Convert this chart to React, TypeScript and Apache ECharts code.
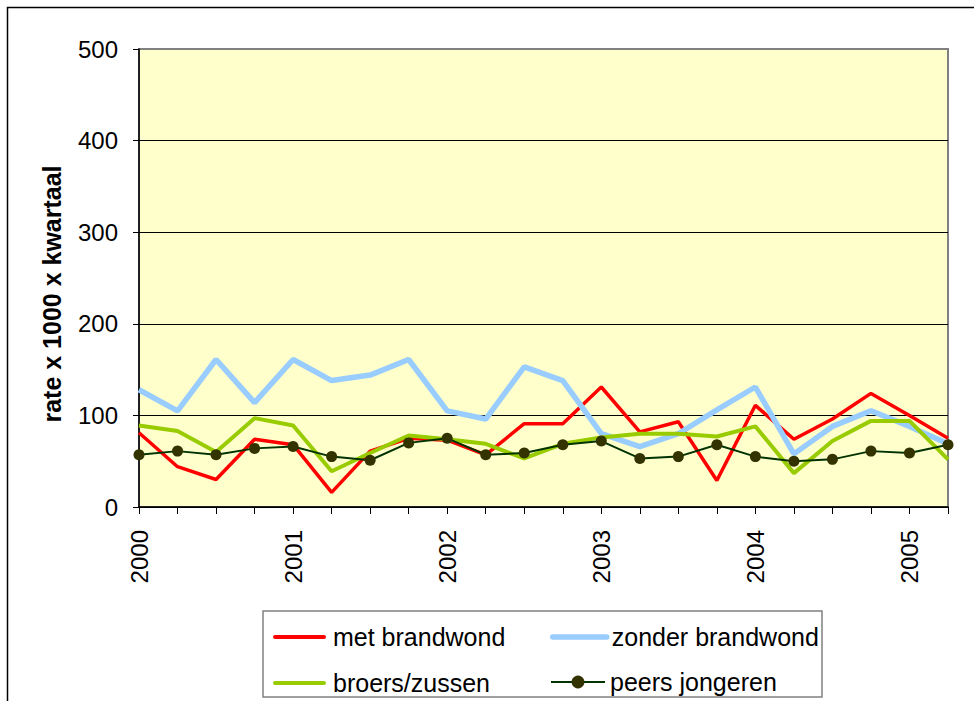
import React, { useEffect, useRef } from "react";
import * as echarts from "echarts";

const quarters = [
  "2000-Q1", "2000-Q2", "2000-Q3", "2000-Q4",
  "2001-Q1", "2001-Q2", "2001-Q3", "2001-Q4",
  "2002-Q1", "2002-Q2", "2002-Q3", "2002-Q4",
  "2003-Q1", "2003-Q2", "2003-Q3", "2003-Q4",
  "2004-Q1", "2004-Q2", "2004-Q3", "2004-Q4",
  "2005-Q1", "2005-Q2",
];

const metBrandwond = [81, 44, 30, 74, 68, 16, 61, 75, 73, 57, 91, 91, 131, 82, 93, 29, 111, 74, 96, 124, 100, 75];
const zonderBrandwond = [128, 105, 161, 114, 161, 138, 144, 161, 105, 96, 153, 138, 80, 66, 80, 106, 131, 58, 88, 105, 88, 69];
const broersZussen = [89, 83, 60, 97, 89, 39, 59, 78, 74, 69, 53, 69, 76, 80, 80, 77, 88, 37, 72, 94, 94, 52];
const peersJongeren = [57, 61, 57, 64, 66, 55, 51, 70, 75, 57, 59, 68, 72, 53, 55, 68, 55, 50, 52, 61, 59, 68];

const seriesNames = ["met brandwond", "zonder brandwond", "broers/zussen", "peers jongeren"];
const yTicks = { min: 0, max: 500, interval: 100 };
const yAxisTitle = "rate x 1000 x kwartaal";

const FONT = "Arial, 'Liberation Sans', sans-serif";

export default function App() {
  const ref = useRef<HTMLDivElement>(null);

  useEffect(() => {
    document.body.style.margin = "0";
    if (!ref.current) return;
    const chart = echarts.init(ref.current, null, { renderer: "svg" });

    const legendText = { fontSize: 25, fontFamily: FONT, color: "#000", lineHeight: 26 };
    const noSymbol = { opacity: 0 };

    chart.setOption({
      animation: false,
      backgroundColor: "#ffffff",
      grid: {
        left: 139,
        top: 49,
        right: 26,
        bottom: 194,
        show: true,
        backgroundColor: "#FFFFCC",
        borderColor: "#808080",
        borderWidth: 2,
      },
      xAxis: {
        type: "category",
        data: quarters,
        boundaryGap: false,
        axisLine: { lineStyle: { color: "#000", width: 1.5 } },
        axisTick: { show: true, interval: 0, length: 7, lineStyle: { color: "#000", width: 1 } },
        axisLabel: {
          interval: 3,
          rotate: 90,
          margin: 23,
          fontSize: 24,
          fontFamily: FONT,
          color: "#000",
          formatter: (v: string) => v.slice(0, 4),
        },
        splitLine: { show: false },
      },
      yAxis: {
        type: "value",
        min: yTicks.min,
        max: yTicks.max,
        interval: yTicks.interval,
        axisLine: { show: true, lineStyle: { color: "#000", width: 1.5 } },
        axisTick: { show: true, length: 6, lineStyle: { color: "#000" } },
        axisLabel: { margin: 21, fontSize: 24, fontFamily: FONT, color: "#000" },
        splitLine: {
          show: true,
          lineStyle: { color: ["#000", "#000", "#000", "#000", "#000", "#808080"], width: 1 },
        },
      },
      legend: [
        { data: [seriesNames[0]], left: 273, top: 624, itemWidth: 49, itemHeight: 14, padding: 0, itemStyle: noSymbol, lineStyle: { width: 4, cap: "round" }, textStyle: { ...legendText, padding: [0, 0, 0, 4] } },
        { data: [seriesNames[1]], left: 550, top: 624, itemWidth: 54, itemHeight: 14, padding: 0, itemStyle: noSymbol, lineStyle: { width: 5.5, cap: "round" }, textStyle: legendText },
        { data: [seriesNames[2]], left: 273, top: 670, itemWidth: 49, itemHeight: 14, padding: 0, itemStyle: noSymbol, lineStyle: { width: 4, cap: "round" }, textStyle: { ...legendText, padding: [0, 0, 0, 4] } },
        { data: [seriesNames[3]], left: 550, top: 669, itemWidth: 54, itemHeight: 16, padding: 0, lineStyle: { width: 2 }, textStyle: legendText },
      ],
      graphic: [
        {
          type: "rect",
          shape: { x: 7.5, y: 7.5, width: 1200, height: 1200 },
          style: { fill: "none", stroke: "#000", lineWidth: 1.5 },
          silent: true,
          z: -10,
        },
        {
          type: "rect",
          shape: { x: 263, y: 611, width: 559, height: 86 },
          style: { fill: "#fff", stroke: "#808080", lineWidth: 1.5 },
          silent: true,
          z: -1,
        },
        {
          type: "text",
          x: 52,
          y: 294,
          rotation: Math.PI / 2,
          style: {
            text: yAxisTitle,
            fontSize: 25,
            fontWeight: "bold",
            fontFamily: FONT,
            fill: "#000",
            textAlign: "center",
            textVerticalAlign: "middle",
          },
        },
      ],
      series: [
        {
          name: seriesNames[0],
          type: "line",
          data: metBrandwond,
          symbol: "none",
          lineStyle: { color: "#FF0000", width: 3.5 },
          itemStyle: { color: "#FF0000" },
        },
        {
          name: seriesNames[1],
          type: "line",
          data: zonderBrandwond,
          symbol: "none",
          lineStyle: { color: "#99CCFF", width: 5.5 },
          itemStyle: { color: "#99CCFF" },
        },
        {
          name: seriesNames[2],
          type: "line",
          data: broersZussen,
          symbol: "none",
          lineStyle: { color: "#99CC00", width: 4 },
          itemStyle: { color: "#99CC00" },
        },
        {
          name: seriesNames[3],
          type: "line",
          data: peersJongeren,
          symbol: "circle",
          symbolSize: 11,
          showSymbol: true,
          lineStyle: { color: "#003300", width: 2 },
          itemStyle: { color: "#333300", borderWidth: 0 },
        },
      ],
    });

    return () => chart.dispose();
  }, []);

  return <div ref={ref} style={{ position: "absolute", left: 0, top: 0, width: 974, height: 701 }} />;
}
